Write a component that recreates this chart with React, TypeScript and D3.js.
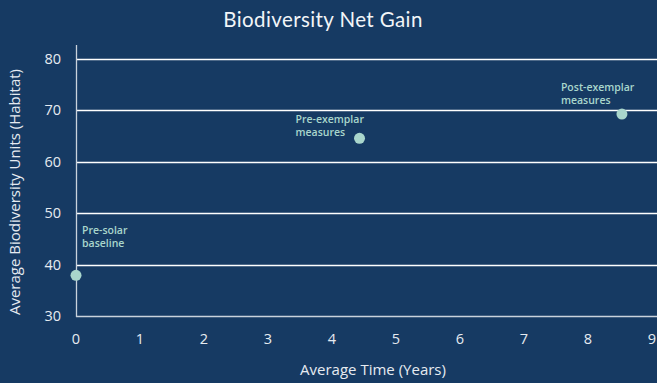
import React from "react";
import * as d3 from "d3";

const W = 657;
const H = 383;

// Data
const stageNames = ["Pre-solar baseline", "Pre-exemplar measures", "Post-exemplar measures"];
const years = [0, 4.43, 8.53];
const habitatUnits = [37.9, 64.5, 69.2];
const xTicks = [0, 1, 2, 3, 4, 5, 6, 7, 8, 9];
const yTicks = [30, 40, 50, 60, 70, 80];

// Label placement relative to each point (dx, dy of first line baseline)
const labelOffsets: [number, number][] = [
  [6, -41],
  [-64, -15],
  [-61, -23],
];

const BG = "#163a63";
const POINT = "#a9d6cc";
const TEXT = "#e6ebf1";

export default function App() {
  const x = d3.scaleLinear().domain([0, 9]).range([76, 652]);
  const y = d3.scaleLinear().domain([30, 80]).range([316, 58.5]);

  const points = years.map((t, i) => ({ t, v: habitatUnits[i], name: stageNames[i] }));
  const splitName = (s: string) => {
    const idx = s.lastIndexOf(" ");
    return [s.slice(0, idx), s.slice(idx + 1)];
  };

  return (
    <svg
      width={W}
      height={H}
      style={{ position: "absolute", left: 0, top: 0, display: "block" }}
    >
      <rect x={0} y={0} width={W} height={H} fill={BG} />
      <text
        x={323}
        y={27}
        textAnchor="middle"
        fill="#f2f5f8"
        fontFamily="Lato, 'Open Sans', sans-serif"
        fontSize={20.5}
        letterSpacing={0.4}
      >
        Biodiversity Net Gain
      </text>

      {/* horizontal grid */}
      {yTicks.map((t) => (
        <line
          key={"g" + t}
          x1={x(0)}
          x2={W}
          y1={Math.round(y(t)) + 0.5}
          y2={Math.round(y(t)) + 0.5}
          stroke={t === 30 ? "#c9d2dc" : "#ffffff"}
          strokeWidth={1.3}
        />
      ))}
      {/* y axis line */}
      <line x1={76.5} x2={76.5} y1={45} y2={Math.round(y(30)) + 1} stroke="#c9d2dc" strokeWidth={1.3} />

      {/* y tick labels */}
      {yTicks.map((t) => (
        <text
          key={"yl" + t}
          x={61}
          y={y(t) + 5}
          textAnchor="end"
          fill={TEXT}
          fontFamily="'Open Sans', sans-serif"
          fontSize={14.5}
        >
          {t}
        </text>
      ))}
      {/* x tick labels */}
      {xTicks.map((t) => (
        <text
          key={"xl" + t}
          x={x(t)}
          y={344}
          textAnchor="middle"
          fill={TEXT}
          fontFamily="'Open Sans', sans-serif"
          fontSize={14.5}
        >
          {t}
        </text>
      ))}

      {/* axis titles */}
      <text
        x={373}
        y={375}
        textAnchor="middle"
        fill={TEXT}
        fontFamily="'Open Sans', sans-serif"
        fontSize={15}
      >
        Average Time (Years)
      </text>
      <text
        transform={`translate(20, 192) rotate(-90)`}
        textAnchor="middle"
        fill={TEXT}
        fontFamily="'Open Sans', sans-serif"
        fontSize={15}
      >
        Average Biodiversity Units (Habitat)
      </text>

      {/* points */}
      {points.map((p, i) => (
        <circle key={"p" + i} cx={x(p.t)} cy={y(p.v)} r={5.5} fill={POINT} />
      ))}

      {/* annotations */}
      {points.map((p, i) => {
        const [l1, l2] = splitName(p.name);
        const [dx, dy] = labelOffsets[i];
        const lx = x(p.t) + dx;
        const ly = y(p.v) + dy;
        return (
          <text
            key={"a" + i}
            fill={POINT}
            fontFamily="'Open Sans', sans-serif"
            fontSize={10.5}
            fontWeight={600}
          >
            <tspan x={lx} y={ly}>{l1}</tspan>
            <tspan x={lx} y={ly + 13}>{l2}</tspan>
          </text>
        );
      })}
    </svg>
  );
}
